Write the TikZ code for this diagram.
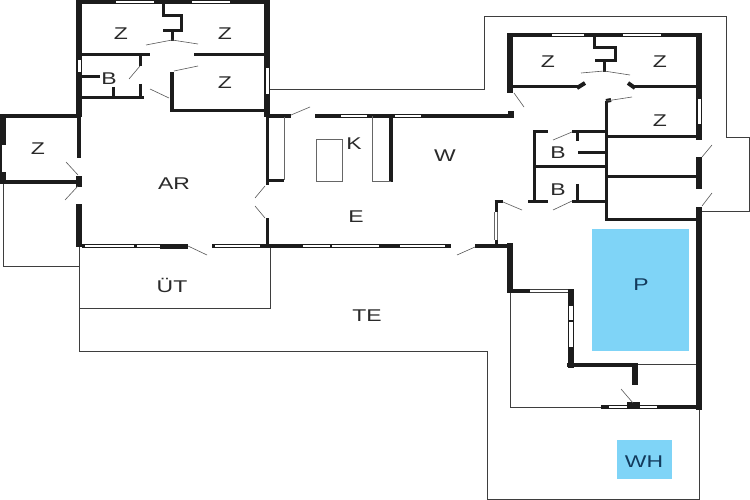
\documentclass[tikz,border=0pt]{standalone}
\usepackage{fontspec}
\setmainfont[FakeStretch=1.35]{Liberation Sans}
\definecolor{wallblack}{HTML}{1C1C1C}
\definecolor{poolblue}{HTML}{7FD4F7}
\definecolor{labelgrey}{HTML}{2A2A2A}
\definecolor{poolink}{HTML}{123A5C}
\tikzset{
  heavy/.style={draw=wallblack, line width=6pt},
  wall/.style={draw=wallblack, line width=4pt},
  partition/.style={draw=wallblack, line width=3pt},
  outline/.style={draw=wallblack!85, line width=1pt},
  counter/.style={draw=gray!80!black, line width=0.8pt},
  swing/.style={draw=gray!70!black, line width=0.6pt},
  glass/.style={fill=white, draw=none},
  roomlabel/.style={text=labelgrey, font=\fontsize{17}{19}\selectfont, inner sep=0pt, yshift=-1.5pt},
  poollabel/.style={text=poolink, font=\fontsize{17}{19}\selectfont, inner sep=0pt, yshift=-1.5pt},
}
\begin{document}
\begin{tikzpicture}[x=1pt, y=-1pt]
    \useasboundingbox[fill=white] (0,0) rectangle (750,500);

    % pool and whirlpool
    \fill[poolblue] (592,229) rectangle (689,351);
    \fill[poolblue] (617,440) rectangle (672,479);

    % terrace outlines
    \draw[outline] (3,182) -- (3,266) -- (79,266);
    \draw[outline] (79,247) -- (79,351) -- (487,351) -- (487,499) -- (699,499) -- (699,408);
    \draw[outline] (79,308) -- (270,308) -- (270,247);
    \draw[outline] (270,89.5) -- (484,89.5) -- (484,16.5) -- (726,16.5) -- (726,138) -- (749,138) -- (749,211) -- (702,211);
    \draw[outline] (510.5,291) -- (510.5,407) -- (602,407);
    \draw[outline] (636,364.5) -- (697,364.5);

    % left wing outer walls
    \draw[heavy] (79,0) -- (79,117);
    \draw[wall] (76,2) -- (269,2);
    \draw[heavy] (267,0) -- (267,117);
    \fill[glass] (116,1) rectangle (154,3.5);
    \fill[glass] (192,1) rectangle (230,3.5);
    \fill[glass] (77.5,60) rectangle (80.5,72);
    \fill[glass] (265.5,68) rectangle (268.5,94);

    % left wing inner walls
    \draw[partition] (163,3) -- (163,16) -- (181,16) -- (181,31) -- (163,31);
    \draw[partition] (172,31) -- (172,41);
    \draw[partition] (82,54.5) -- (150,54.5);
    \draw[partition] (194,55) -- (264,55);
    \draw[wall] (172,72) -- (172,112);
    \draw[partition] (172,110.5) -- (266,110.5);
    \draw[partition] (140.5,56) -- (140.5,66);
    \draw[partition] (140.5,84) -- (140.5,98);
    \draw[partition] (82,98) -- (144,98);
    \draw[partition] (82,77) -- (100,77);
    \draw[partition] (113,87) -- (113,98);

    % west room
    \draw[wall] (0,116) -- (78,116);
    \draw[heavy] (3,115) -- (3,182);
    \draw[wall] (0,182) -- (79,182);
    \fill[glass] (1.5,145) rectangle (5.5,172);

    % living room walls
    \draw[wall] (79,117) -- (79,158);
    \fill[wallblack] (76,176) rectangle (82,187);
    \draw[heavy] (79,204) -- (79,247);
    \draw[wall] (82,246) -- (188,246);
    \draw[wall] (212,246) -- (510,246);
    \fill[glass] (85,245) rectangle (134,247);
    \fill[glass] (137,245) rectangle (160,247);
    \fill[glass] (215,245) rectangle (260,247);
    \fill[wallblack] (160,243.5) rectangle (188,248.5);
    \draw[partition] (267,117) -- (267,185);
    \draw[partition] (267,218) -- (267,247);

    % kitchen and dining
    \draw[wall] (266,116) -- (291,116);
    \draw[wall] (315,116) -- (514,116);
    \fill[glass] (341,115) rectangle (367,117);
    \fill[glass] (395,115) rectangle (421,117);
    \fill[wallblack] (508,111) rectangle (514,118);
    \draw[counter] (284,117) -- (284,180);
    \draw[partition] (267,180.5) -- (284,180.5);
    \draw[wall] (391,116) -- (391,182.5);
    \draw[counter] (372,116) -- (372,181) -- (391,181);
    \draw[counter] (316,139) rectangle (342,181);

    % south wall, glass and entrance
    \fill[glass] (303,245) rectangle (330,247);
    \fill[glass] (332,245) rectangle (379,247);
    \fill[glass] (400,245) rectangle (445,247);
    \fill[white] (451,243) rectangle (475,249);
    \draw[partition] (496,201) -- (496,212);
    \draw[partition] (494.5,201.5) -- (503,201.5);
    \draw[partition] (496,240) -- (496,246);
    \draw[counter] (494.5,212) -- (494.5,240);
    \draw[counter] (497.5,212) -- (497.5,240);

    % right wing outer walls
    \draw[wall] (507,35.5) -- (702,35.5);
    \fill[glass] (552,34.5) rectangle (584,36.5);
    \fill[glass] (623,34.5) rectangle (661,36.5);
    \draw[heavy] (510,33.5) -- (510,93);
    \draw[heavy] (699,33.5) -- (699,140);
    \fill[glass] (697.5,99) rectangle (700.5,124);
    \draw[heavy] (699,157) -- (699,189);
    \draw[heavy] (699,207) -- (699,410);

    % right wing inner walls
    \draw[partition] (594,36) -- (594,48) -- (615,48) -- (615,61) -- (595,61);
    \draw[partition] (604,61) -- (604,72);
    \draw[partition] (513,87) -- (578,87);
    \draw[wall] (577,88) -- (585,83);
    \draw[wall] (628,83) -- (635,88);
    \draw[partition] (632,87) -- (696,87);
    \draw[partition] (606,101) -- (606,221);
    \draw[wall] (606,101) -- (611,100);
    \draw[partition] (606,137) -- (696,137);
    \draw[partition] (606,177) -- (696,177);
    \draw[partition] (606,219.5) -- (697,219.5);

    % bathrooms
    \draw[partition] (534,201) -- (534,131.5) -- (548,131.5);
    \draw[partition] (572,132) -- (606,132);
    \draw[partition] (577,132) -- (577,141);
    \draw[partition] (578,153) -- (606,153);
    \draw[partition] (534,166.5) -- (606,166.5);
    \draw[partition] (577,184) -- (577,201);
    \draw[partition] (528,201) -- (548,201);
    \draw[partition] (572,201) -- (606,201);

    % south east part
    \draw[heavy] (510,243) -- (510,293);
    \draw[wall] (507,291) -- (530,291);
    \draw[outline] (530,289.5) -- (568,289.5);
    \draw[outline] (530,292.5) -- (568,292.5);
    \draw[heavy] (570.5,289) -- (570.5,368);
    \fill[glass] (568.5,306) rectangle (572.5,320);
    \fill[glass] (568.5,322) rectangle (572.5,347);
    \draw[wall] (567,364.5) -- (638,364.5);
    \draw[heavy] (635,364) -- (635,385);
    \draw[wall] (601,407) -- (702,407);
    \fill[wallblack] (627,402) rectangle (640,409);
    \fill[glass] (609,406) rectangle (627,408);
    \fill[glass] (640,406) rectangle (657,408);

    % door leaves
    \foreach \xa/\ya/\xb/\yb in {146/45/172/40, 198/44/172/40, 129/79/140/66, 150/89/169/98, 174/71/198/66,
        66/162/78/175, 65/200/78/186, 255/198/265/186, 255/206/265/218, 188/246/207/255,
        291/115/310/107, 457/255/475/247, 503/202/522/210, 514/93/524/107,
        581/73/604/71, 630/75/604/71, 606/101/632/97, 553/140/572/132, 553/210/572/201,
        702/157/712/145, 702/206/712/193, 621/389/633/403}
        \draw[swing] (\xa,\ya) -- (\xb,\yb);

    % room names
    \node[roomlabel] (zNW) at (121,32) {Z};
    \node[roomlabel] (zNE) at (225,32) {Z};
    \node[roomlabel] (zMid) at (225,81) {Z};
    \node[roomlabel] (bathW) at (109,77) {B};
    \node[roomlabel] (zWest) at (38,147) {Z};
    \node[roomlabel] (living) at (174,182) {AR};
    \node[roomlabel] (kitchen) at (354,142) {K};
    \node[roomlabel] (dining) at (445,154) {W};
    \node[roomlabel] (hall) at (356,215) {E};
    \node[roomlabel] (porch) at (172,283.5) {ÜT};
    \node[roomlabel] (terrace) at (367,314) {TE};
    \node[roomlabel] (zA) at (548,60) {Z};
    \node[roomlabel] (zB) at (660,60) {Z};
    \node[roomlabel] (zC) at (660,119) {Z};
    \node[roomlabel] (bathA) at (558,151) {B};
    \node[roomlabel] (bathB) at (558,188) {B};
    \node[poollabel] (pool) at (641,283) {P};
    \node[poollabel] (whirl) at (644,460) {WH};
\end{tikzpicture}
\end{document}
